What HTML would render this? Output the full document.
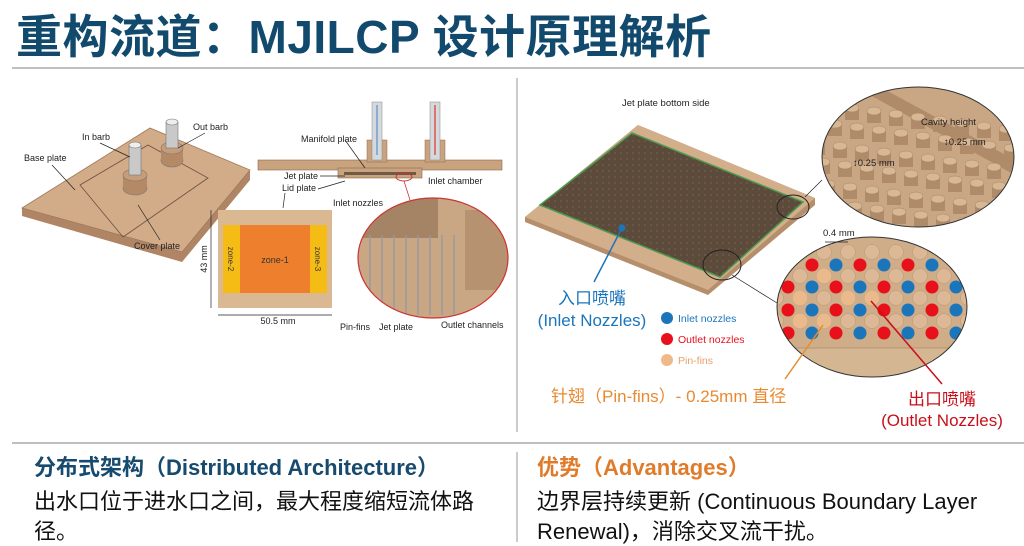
<!DOCTYPE html>
<html><head><meta charset="utf-8"><style>
html,body{margin:0;padding:0;background:#fff;width:1024px;height:546px;overflow:hidden}
svg{display:block}
.t{font-family:"Liberation Sans","Noto Sans CJK SC",sans-serif}
</style></head><body>
<svg id="s" width="1024" height="546" viewBox="0 0 1024 546" xmlns="http://www.w3.org/2000/svg" class="t">
<defs>
<clipPath id="cb"><ellipse cx="872" cy="307" rx="95" ry="70"/></clipPath>
<clipPath id="ct"><ellipse cx="918" cy="157" rx="96" ry="70"/></clipPath>
<clipPath id="cr"><ellipse cx="433" cy="258" rx="75" ry="60"/></clipPath>
<pattern id="hatch" width="6" height="6" patternUnits="userSpaceOnUse"><rect width="6" height="6" fill="#5c4a3a"/><circle cx="3" cy="3" r="1" fill="#6e5a47"/></pattern>
</defs>
<text x="16" y="53" font-size="46" font-weight="bold" fill="#124a6d" letter-spacing="0.5" font-family="'Liberation Sans','Noto Sans CJK SC',sans-serif">重构流道：MJILCP 设计原理解析</text>
<line x1="12" y1="68" x2="1030" y2="68" stroke="#aaa" stroke-width="1.5"/>
<line x1="517" y1="78" x2="517" y2="432" stroke="#999" stroke-width="1"/>
<line x1="12" y1="443" x2="1030" y2="443" stroke="#aaa" stroke-width="1.5"/>
<line x1="517" y1="452" x2="517" y2="542" stroke="#999" stroke-width="1"/>

<polygon points="22,208 150,128 250,170 250,180 182,262 22,216" fill="#b08566"/>
<polygon points="22,208 150,128 250,170 182,252" fill="#d2ab88" stroke="#a07a5a" stroke-width="0.8"/>
<polygon points="80,185 148,145 208,178 123,237" fill="none" stroke="#6b5040" stroke-width="0.8"/>
<g fill="#c9c9c9" stroke="#777" stroke-width="0.6">
<ellipse cx="135" cy="188" rx="12" ry="7" fill="#b48a66"/><rect x="123" y="175" width="24" height="13" fill="#b48a66" stroke="none"/><ellipse cx="135" cy="175" rx="12" ry="6" fill="#c79c78"/>
<rect x="129" y="145" width="12" height="30"/><ellipse cx="135" cy="145" rx="6" ry="3" fill="#eee"/>
<ellipse cx="172" cy="160" rx="11" ry="7" fill="#b48a66"/><rect x="161" y="148" width="22" height="12" fill="#b48a66" stroke="none"/><ellipse cx="172" cy="148" rx="11" ry="6" fill="#c79c78"/>
<rect x="166" y="122" width="12" height="26"/><ellipse cx="172" cy="122" rx="6" ry="3" fill="#eee"/>
</g>
<g font-size="9" fill="#222">
<text x="82" y="140">In barb</text><text x="193" y="130">Out barb</text>
<text x="24" y="161">Base plate</text><text x="134" y="249">Cover plate</text>
</g>
<g stroke="#222" stroke-width="0.7" fill="none">
<line x1="100" y1="143" x2="130" y2="157"/><line x1="205" y1="133" x2="178" y2="148"/>
<line x1="52" y1="165" x2="75" y2="190"/><line x1="160" y1="240" x2="138" y2="205"/>
</g>

<rect x="258" y="160" width="244" height="10" fill="#c9a27e" stroke="#8a6a50" stroke-width="0.6"/>
<rect x="338" y="168" width="84" height="10" fill="#c9a27e" stroke="#8a6a50" stroke-width="0.6"/>
<rect x="344" y="172" width="72" height="3" fill="#6e5a47"/>
<rect x="367" y="140" width="20" height="22" fill="#c9a27e" stroke="#8a6a50" stroke-width="0.5"/>
<rect x="425" y="140" width="20" height="22" fill="#c9a27e" stroke="#8a6a50" stroke-width="0.5"/>
<rect x="372" y="102" width="10" height="58" fill="#d6d9dc" stroke="#888" stroke-width="0.5"/>
<rect x="430" y="102" width="10" height="58" fill="#d6d9dc" stroke="#888" stroke-width="0.5"/>
<line x1="377" y1="105" x2="377" y2="155" stroke="#5c8fd0" stroke-width="1.2"/>
<line x1="435" y1="105" x2="435" y2="155" stroke="#d33" stroke-width="1.2"/>
<ellipse cx="404" cy="177" rx="8" ry="4" fill="none" stroke="#c33" stroke-width="1"/>
<line x1="404" y1="181" x2="410" y2="200" stroke="#c33" stroke-width="0.8"/>
<g font-size="9" fill="#222">
<text x="301" y="142">Manifold plate</text><text x="284" y="179">Jet plate</text><text x="282" y="191">Lid plate</text>
<text x="428" y="184">Inlet chamber</text><text x="333" y="206">Inlet nozzles</text>
<text x="340" y="330">Pin-fins</text><text x="379" y="330">Jet plate</text><text x="441" y="328">Outlet channels</text>
</g>
<g stroke="#222" stroke-width="0.7" fill="none">
<line x1="345" y1="140" x2="365" y2="168"/><line x1="320" y1="176" x2="345" y2="176"/><line x1="318" y1="189" x2="345" y2="181"/>
<line x1="285" y1="193" x2="283" y2="208"/>
</g>
<g clip-path="url(#cr)">
<rect x="358" y="198" width="150" height="120" fill="#c9a684"/>
<rect x="358" y="198" width="80" height="40" fill="#a58466"/>
<rect x="465" y="210" width="43" height="80" fill="#b69270"/>
<g stroke="#9a9aa0" stroke-width="1.5" id="pins"></g>
</g>
<ellipse cx="433" cy="258" rx="75" ry="60" fill="none" stroke="#c33" stroke-width="1.2"/>

<rect x="218" y="210" width="114" height="98" fill="#d9b892"/>
<rect x="223" y="225" width="17" height="68" fill="#f5bc16"/>
<rect x="240" y="225" width="70" height="68" fill="#ee7f2d"/>
<rect x="310" y="225" width="17" height="68" fill="#f5bc16"/>
<text x="275" y="263" font-size="9" fill="#333" text-anchor="middle">zone-1</text>
<text transform="translate(228,259) rotate(90)" font-size="8" fill="#333" text-anchor="middle">zone-2</text>
<text transform="translate(315,259) rotate(90)" font-size="8" fill="#333" text-anchor="middle">zone-3</text>
<line x1="211" y1="210" x2="211" y2="308" stroke="#222" stroke-width="0.7"/>
<line x1="218" y1="315" x2="332" y2="315" stroke="#222" stroke-width="0.7"/>
<text transform="translate(207,259) rotate(-90)" font-size="9" text-anchor="middle" fill="#222">43 mm</text>
<text x="278" y="324" font-size="9" text-anchor="middle" fill="#222">50.5 mm</text>

<text x="622" y="106" font-size="9.5" fill="#222">Jet plate bottom side</text>
<polygon points="525,217 638,125 815,198 815,205 708,295 525,222" fill="#b58e6c"/>
<polygon points="525,217 638,125 815,198 708,290" fill="#d2ae8b"/>
<polygon points="540,205 632,133 803,202 720,277" fill="url(#hatch)" stroke="#4a9a50" stroke-width="1.5"/>
<ellipse cx="793" cy="207" rx="16" ry="12" fill="none" stroke="#222" stroke-width="1"/>
<ellipse cx="722" cy="265" rx="19" ry="15" fill="none" stroke="#222" stroke-width="1"/>
<line x1="805" y1="197" x2="822" y2="180" stroke="#222" stroke-width="0.7"/>
<line x1="732" y1="275" x2="777" y2="303" stroke="#222" stroke-width="0.7"/>
<circle cx="622" cy="228" r="3.5" fill="#1b75bb"/>
<line x1="622" y1="228" x2="594" y2="282" stroke="#1b75bb" stroke-width="1.5"/>

<g clip-path="url(#ct)">
<rect x="820" y="85" width="200" height="145" fill="#c9a684"/>
<polygon points="880,87 1015,160 1015,175 870,95" fill="#b08b69"/>
<g id="cyl"></g>
</g>
<ellipse cx="918" cy="157" rx="96" ry="70" fill="none" stroke="#333" stroke-width="1"/>
<text x="921" y="125" font-size="9.5" fill="#222">Cavity height</text>
<text x="944" y="145" font-size="9.5" fill="#222">↕0.25 mm</text>
<text x="853" y="166" font-size="9.5" fill="#222">↕0.25 mm</text>

<g clip-path="url(#cb)">
<rect x="770" y="230" width="200" height="150" fill="#cfad89"/>
<rect x="770" y="348" width="200" height="40" fill="#d4b693"/>
<line x1="770" y1="348" x2="970" y2="348" stroke="#9a7a5c" stroke-width="0.6"/>
<g id="dots"></g>
</g>
<ellipse cx="872" cy="307" rx="95" ry="70" fill="none" stroke="#333" stroke-width="1"/>
<text x="823" y="236" font-size="9.5" fill="#222">0.4 mm</text>
<line x1="825" y1="242" x2="848" y2="242" stroke="#222" stroke-width="0.8"/>

<circle cx="667" cy="318" r="6" fill="#1b75bb"/><text x="678" y="322" font-size="10.5" fill="#1b75bb">Inlet nozzles</text>
<circle cx="667" cy="339" r="6" fill="#e8101a"/><text x="678" y="343" font-size="10.5" fill="#e8101a">Outlet nozzles</text>
<circle cx="667" cy="360" r="6" fill="#f0b98a"/><text x="678" y="364" font-size="10.5" fill="#e8a06a">Pin-fins</text>

<text x="592" y="304" font-size="17" fill="#1b75bb" text-anchor="middle">入口喷嘴</text>
<text x="592" y="326" font-size="17" fill="#1b75bb" text-anchor="middle">(Inlet Nozzles)</text>
<line x1="823" y1="325" x2="785" y2="379" stroke="#e88a30" stroke-width="1.5"/>
<text x="551" y="402" font-size="17" fill="#e88a30">针翅（Pin-fins）- 0.25mm 直径</text>
<line x1="871" y1="301" x2="942" y2="384" stroke="#c8101a" stroke-width="1.5"/>
<text x="942" y="405" font-size="17" fill="#c8101a" text-anchor="middle">出口喷嘴</text>
<text x="942" y="426" font-size="17" fill="#c8101a" text-anchor="middle">(Outlet Nozzles)</text>

<text x="34" y="475" font-size="22" font-weight="bold" fill="#164a6e">分布式架构（Distributed Architecture）</text>
<text x="34" y="509" font-size="22" fill="#111">出水口位于进水口之间，最大程度缩短流体路</text>
<text x="34" y="539" font-size="22" fill="#111">径。</text>
<text x="537" y="475" font-size="22" font-weight="bold" fill="#e07b2a">优势（Advantages）</text>
<text x="537" y="509" font-size="22" fill="#111">边界层持续更新 (Continuous Boundary Layer</text>
<text x="537" y="539" font-size="22" fill="#111">Renewal)，消除交叉流干扰。</text>
</svg>
<script>
var NS="http://www.w3.org/2000/svg";
function el(p,t,a){var e=document.createElementNS(NS,t);for(var k in a)e.setAttribute(k,a[k]);p.appendChild(e);return e;}
var d=document.getElementById("dots");
var pinRows=[252,276,298,321],nozRows=[265,287,310,333];
pinRows.forEach(function(y){for(var x=776;x<980;x+=24)el(d,"circle",{cx:x,cy:y,r:7.5,fill:"#dcb896",stroke:"#b89670","stroke-width":0.5});});
nozRows.forEach(function(y,i){for(var k=0;k<9;k++){var x=788+24*k;var c=((k+(i==0?1:0))%2==0)?"#e8101a":"#1b75bb";if(i==0&&k==0)continue;el(d,"circle",{cx:x,cy:y,r:6.5,fill:c});}});
[[800,298],[824,276],[848,298],[824,321],[872,298],[800,321]].forEach(function(p){el(d,"circle",{cx:p[0],cy:p[1],r:7.5,fill:"#eab98c"});});
var cy=document.getElementById("cyl");
for(var r=0;r<7;r++)for(var k=0;k<9;k++){var x=830+k*22-r*6+ (r%2)*11,y=105+r*19+k*3;
el(cy,"rect",{x:x-7,y:y,width:14,height:12,fill:"#b08b69"});
el(cy,"ellipse",{cx:x,cy:y,rx:7,ry:4,fill:"#d8b794",stroke:"#9a7a5c","stroke-width":0.4});}
var p=document.getElementById("pins");
for(var i=0;i<8;i++){var x=370+i*12;el(p,"line",{x1:x,y1:235,x2:x,y2:315});}
</script>
</body></html>
